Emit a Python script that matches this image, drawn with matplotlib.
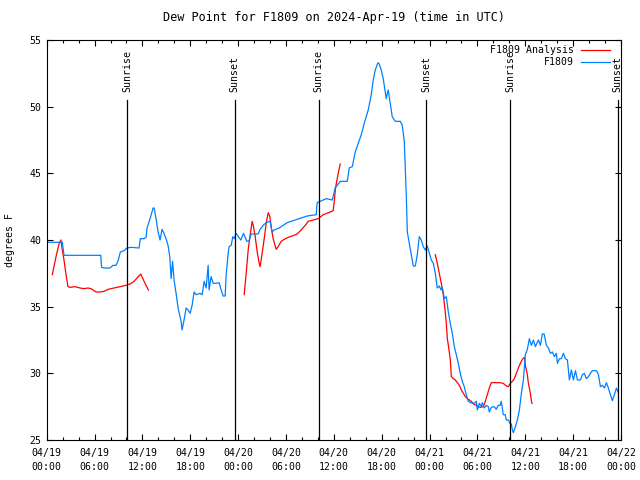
import numpy as np
import matplotlib
matplotlib.use('Agg')
import matplotlib.pyplot as plt
from matplotlib.ticker import MultipleLocator

# hours since 2024-04-19 00:00 UTC
obs_hours = [0.16, 1.96, 2.17, 6.78, 6.88, 7.19, 7.94, 8.32, 8.70, 8.98, 9.23, 9.70, 10.04, 10.61,
             11.58, 11.74, 12.21, 12.46, 12.58, 12.96, 13.34, 13.46, 13.71, 13.96, 14.21, 14.46,
             14.71, 14.96, 15.21, 15.43, 15.60, 15.78, 15.97, 16.22, 16.47, 16.85, 16.97, 17.22,
             17.48, 17.73, 17.98, 18.23, 18.48, 18.73, 19.23, 19.49, 19.74, 19.99, 20.24, 20.36,
             20.61, 20.87, 21.24, 21.62, 21.87, 22.12, 22.37, 22.50, 22.75, 22.87, 23.12, 23.34,
             23.50, 23.75, 24.09, 24.34, 24.67, 25.09, 25.38, 25.63, 26.51, 26.76, 27.14, 27.51,
             28.01, 28.26, 28.51, 29.14, 29.65, 30.15, 31.40, 32.66, 33.79, 33.91, 35.04, 35.80,
             36.17, 36.42, 36.80, 37.68, 37.93, 38.31, 38.68, 39.06, 39.44, 39.81, 40.31, 40.69,
             40.94, 41.19, 41.53, 41.69, 41.94, 42.19, 42.45, 42.57, 42.70, 42.82, 43.07, 43.32,
             43.70, 44.33, 44.58, 44.83, 44.96, 45.08, 45.21, 45.46, 45.71, 45.96, 46.21, 46.46,
             46.71, 46.96, 47.21, 47.46, 47.71, 47.97, 48.22, 48.47, 48.72, 48.97, 49.22, 49.44,
             49.60, 49.85, 50.10, 50.35, 50.60, 50.85, 51.10, 51.35, 51.60, 51.85, 52.10, 52.35,
             52.60, 52.85, 53.11, 53.61, 53.86, 53.99, 54.24, 54.49, 54.61, 54.86, 55.11, 55.36,
             55.49, 55.74, 56.11, 56.36, 56.61, 56.86, 56.99, 57.24, 57.49, 57.62, 57.87, 58.09,
             58.25, 58.38, 58.51, 58.76, 59.01, 59.26, 59.51, 59.76, 60.01, 60.26, 60.51, 60.77,
             61.02, 61.27, 61.64, 61.89, 62.14, 62.36, 62.65, 62.90, 63.15, 63.40, 63.65, 63.90,
             64.03, 64.28, 64.53, 64.78, 65.03, 65.28, 65.53, 65.78, 66.03, 66.29, 66.54, 66.91,
             67.16, 67.41, 67.66, 67.91, 68.16, 68.41, 68.92, 69.17, 69.42, 69.67, 69.92, 70.17,
             70.42, 70.67, 70.92, 71.17, 71.43, 71.68]
obs_dewpt = [39.83, 39.83, 38.85, 38.85, 37.95, 37.9, 37.9, 38.1, 38.1, 38.5, 39.1, 39.2, 39.4, 39.45,
             39.4, 40.1, 40.1, 40.2, 40.9, 41.6, 42.4, 42.4, 41.6, 40.6, 40.0, 40.8,
             40.5, 40.1, 39.6, 38.75, 37.1, 38.4, 37.0, 36.0, 34.9, 33.9, 33.25, 34.0,
             34.9, 34.75, 34.5, 35.1, 36.1, 35.9, 36.0, 35.9, 36.9, 36.4, 38.1, 36.25,
             37.25, 36.75, 36.75, 36.8, 36.25, 35.8, 35.8, 37.4, 39.0, 39.5, 39.6, 40.25,
             40.1, 40.5, 40.2, 40.0, 40.5, 39.9, 39.95, 40.45, 40.45, 40.8, 41.1, 41.3,
             41.4, 40.6, 40.75, 40.9, 41.1, 41.3, 41.55, 41.8, 41.9, 42.8, 43.1, 43.0,
             43.9, 44.1, 44.4, 44.4, 45.4, 45.5, 46.6, 47.25, 47.9, 48.75, 49.75, 50.9,
             52.0, 52.75, 53.3, 53.2, 52.75, 52.1, 51.1, 50.6, 51.0, 51.25, 50.25, 49.25,
             48.9, 48.9, 48.6, 47.4, 45.25, 43.4, 40.6, 39.75, 38.9, 38.05, 38.05, 38.9,
             40.25, 40.0, 39.5, 39.25, 39.55, 39.0, 38.5, 38.25, 37.5, 36.4, 36.55, 36.25,
             36.45, 35.6, 35.75, 34.6, 33.75, 33.0, 32.0, 31.4, 30.75, 30.0, 29.4, 29.0,
             28.4, 27.9, 27.8, 27.75, 27.9, 27.25, 27.75, 27.5, 27.8, 27.4, 27.6, 27.5,
             27.1, 27.45, 27.5, 27.3, 27.6, 27.6, 27.9, 26.9, 26.9, 26.5, 26.5, 26.25,
             26.2, 25.75, 25.55, 26.0, 26.5, 27.25, 28.5, 29.5, 31.4, 31.8, 32.6, 32.1,
             32.5, 32.0, 32.5, 32.1, 32.95, 32.95, 32.1, 31.9, 31.5, 31.6, 31.25, 31.5,
             30.75, 31.1, 31.1, 31.5, 31.1, 31.0, 29.5, 30.25, 29.5, 30.2, 29.5, 29.5,
             29.9, 30.0, 29.6, 29.75, 30.0, 30.2, 30.2, 29.9, 29.0, 29.1, 28.9, 29.3,
             28.9, 28.4, 27.95, 28.4, 28.9, 28.5]

# analysis, three runs (nan = gap between runs)
ana_hours = [0.70, 1.17, 1.54, 1.79, 1.92, 2.17, 2.42, 2.67, 2.92, 3.55, 4.18, 4.68, 5.18, 5.56,
             5.81, 6.19, 6.69, 7.19, 7.69, 8.44, 9.19, 9.95, 10.45, 10.95, 11.33, 11.79, 12.21, 12.75,
             np.nan,
             24.76, 25.01, 25.26, 25.51, 25.76, 25.89, 26.14, 26.39, 26.64, 26.76, 27.01, 27.27,
             27.52, 27.77, 27.98, 28.14, 28.39, 28.77, 29.02, 29.40, 29.77, 30.28, 30.78, 31.40,
             31.91, 32.41, 32.79, 33.41, 34.04, 34.67, 35.55, 35.92, 36.05, 36.21, 36.42, 36.55, 36.80,
             np.nan,
             48.72, 48.97, 49.22, 49.47, 49.72, 49.94, 50.10, 50.23, 50.44, 50.60, 50.73, 50.98,
             51.23, 51.48, 51.74, 51.99, 52.24, 52.49, 52.74, 52.99, 53.24, 53.49, 53.86, 54.11,
             54.37, 54.74, 54.99, 55.24, 55.49, 55.74, 56.86, 57.24, 57.62, 57.87, 58.12, 58.38,
             58.63, 58.88, 59.13, 59.38, 59.63, 59.89, 60.01, 60.26, 60.39, 60.64, 60.77, 60.85]
ana_dewpt = [37.4, 38.75, 39.7, 40.0, 39.4, 38.5, 37.4, 36.5, 36.45, 36.5, 36.4, 36.35, 36.4, 36.35,
             36.25, 36.1, 36.1, 36.15, 36.3, 36.4, 36.5, 36.6, 36.7, 36.9, 37.15, 37.45, 36.9, 36.25,
             np.nan,
             35.9, 37.5, 39.25, 40.4, 41.4, 41.1, 40.25, 39.1, 38.25, 38.0, 39.0, 40.1,
             41.25, 42.05, 41.75, 41.0, 40.1, 39.3, 39.5, 39.9, 40.05, 40.2, 40.3, 40.45,
             40.75, 41.1, 41.4, 41.5, 41.6, 41.9, 42.1, 42.2, 42.9, 43.9, 44.6, 45.0, 45.7,
             np.nan,
             38.9, 38.25, 37.5, 36.75, 35.9, 34.75, 33.75, 32.6, 31.75, 31.0, 29.75, 29.6,
             29.5, 29.3, 29.1, 28.75, 28.5, 28.25, 28.1, 28.0, 27.9, 27.7, 27.6, 27.5,
             27.45, 27.5, 27.9, 28.4, 28.9, 29.3, 29.3, 29.25, 29.05, 29.0, 29.25, 29.4,
             29.6, 30.0, 30.4, 30.75, 31.05, 31.2, 30.6, 29.9, 29.25, 28.5, 27.9, 27.75]

sun_hours = [10.1, 23.55, 34.08, 47.55, 58.1, 71.6]
sun_labels = ['Sunrise', 'Sunset', 'Sunrise', 'Sunset', 'Sunrise', 'Sunset']

tick_hours = list(range(0, 73, 6))
tick_labels = ['04/19\n00:00', '04/19\n06:00', '04/19\n12:00', '04/19\n18:00',
               '04/20\n00:00', '04/20\n06:00', '04/20\n12:00', '04/20\n18:00',
               '04/21\n00:00', '04/21\n06:00', '04/21\n12:00', '04/21\n18:00',
               '04/22\n00:00']

plt.rcParams['font.family'] = 'DejaVu Sans Mono'
plt.rcParams['font.size'] = 7.1

fig = plt.figure(figsize=(6.4, 4.8), dpi=100)
ax = fig.add_axes([46.7 / 640, 40 / 480, (621 - 46.7) / 640, 400 / 480])

ax.plot(ana_hours, ana_dewpt, color='#ff0000', lw=0.9)
ax.plot(obs_hours, obs_dewpt, color='#0080ff', lw=0.9)

for h, lab in zip(sun_hours, sun_labels):
    ax.plot([h, h], [25, 50.5], color='black', lw=0.9)
    ax.text(h, 51.1, lab, rotation=90, ha='center', va='bottom', clip_on=False)

ax.set_xlim(0, 72)
ax.set_ylim(25, 55)
ax.set_xticks(tick_hours)
ax.set_xticklabels(tick_labels, linespacing=1.5)
ax.xaxis.set_minor_locator(MultipleLocator(2))
ax.yaxis.set_major_locator(MultipleLocator(5))
ax.tick_params(which='both', direction='in', top=True, right=True, width=0.8)
ax.tick_params(which='major', length=4)
ax.tick_params(which='minor', length=2.5)
ax.tick_params(axis='x', pad=6)
ax.tick_params(axis='y', pad=4)
for s in ax.spines.values():
    s.set_linewidth(0.8)

ax.set_title('Dew Point for F1809 on 2024-Apr-19 (time in UTC)', pad=14)
ax.set_ylabel('degrees F', labelpad=10)

# gnuplot style key: text right-aligned, sample to the right
key_rows = [('F1809 Analysis', '#ff0000', 0.975), ('F1809', '#0080ff', 0.945)]
for txt, col, yy in key_rows:
    ax.text(0.918, yy, txt, transform=ax.transAxes, ha='right', va='center')
    ax.plot([0.930, 0.981], [yy, yy], color=col, lw=0.9, transform=ax.transAxes)

fig.savefig('out.png', dpi=100)
